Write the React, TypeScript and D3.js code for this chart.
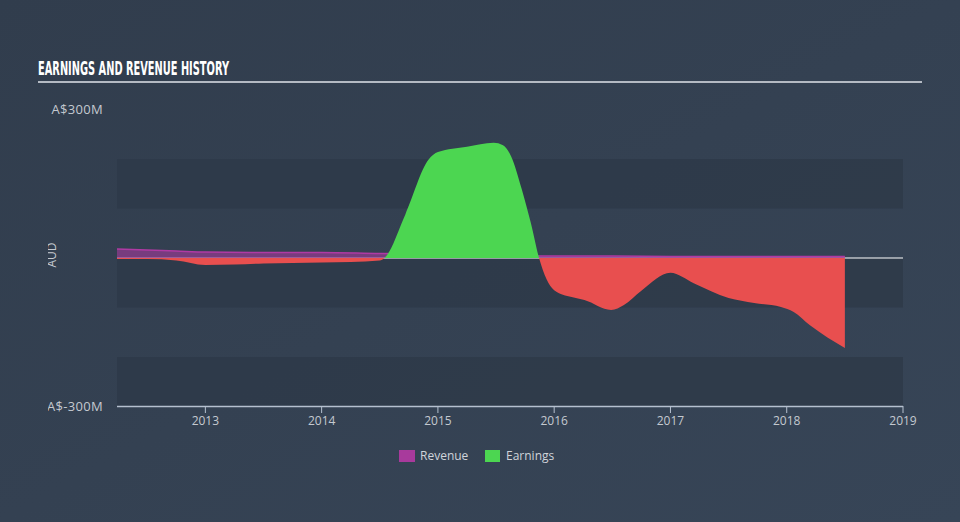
import React from "react";
import * as d3 from "d3";

const W = 960;
const H = 522;

// Earnings (A$ millions) by fractional year
const earnYears = [2012.24, 2012.5, 2012.75, 2013.0, 2013.25, 2013.5, 2013.75, 2014.0, 2014.25, 2014.5, 2014.54, 2014.72, 2014.92, 2015.0, 2015.25, 2015.48, 2015.56, 2015.63, 2015.72, 2015.8, 2015.87, 2016.0, 2016.15, 2016.26, 2016.49, 2016.6, 2016.75, 2017.0, 2017.2, 2017.5, 2017.72, 2017.95, 2018.06, 2018.2, 2018.5];
const earnValues = [-2, -2, -5, -14, -13, -11, -10, -9, -8, -5, 0, 88, 199, 214, 225, 233, 228, 205, 140, 70, 0, -65, -79, -85, -105, -95, -66, -30, -51, -81, -91, -99, -109, -136, -182];

// Revenue (A$ millions)
const revYears = [2012.24, 2012.75, 2013.0, 2013.5, 2014.0, 2014.5, 2015.0, 2015.5, 2016.0, 2016.5, 2017.0, 2017.5, 2018.0, 2018.5];
const revValues = [18, 14, 12, 11, 11, 9, 8, 6, 4, 4, 3, 3, 3, 3];

const yTicks = [300, -300];
const xTicks = [2013, 2014, 2015, 2016, 2017, 2018, 2019];
const bands = [[200, 100], [0, -100], [-200, -300]];

export default function App() {
  const x = d3.scaleLinear().domain([2012.24, 2019]).range([117, 903]);
  const y = d3.scaleLinear().domain([-300, 300]).range([406.5, 109.5]);

  const earn = earnYears.map((t, i) => ({ t, v: earnValues[i] }));
  const rev = revYears.map((t, i) => ({ t, v: revValues[i] }));

  const areaGen = d3
    .area<{ t: number; v: number }>()
    .x((d) => x(d.t))
    .y0(y(0))
    .y1((d) => y(d.v))
    .curve(d3.curveMonotoneX);
  const lineGen = d3
    .line<{ t: number; v: number }>()
    .x((d) => x(d.t))
    .y((d) => y(d.v))
    .curve(d3.curveMonotoneX);

  const earnPath = areaGen(earn) || "";
  const revPath = areaGen(rev) || "";
  const revLine = lineGen(rev) || "";

  const [x0, x1] = x.range();

  return (
    <svg
      width={W}
      height={H}
      style={{ position: "fixed", left: 0, top: 0, display: "block" }}
      fontFamily="'Open Sans', sans-serif"
    >
      <defs>
        <linearGradient id="bg" x1="0" y1="0" x2="1" y2="1">
          <stop offset="0" stopColor="#313d4d" />
          <stop offset="1" stopColor="#374557" />
        </linearGradient>
        <clipPath id="posClip">
          <rect x={0} y={0} width={W} height={y(0)} />
        </clipPath>
        <clipPath id="negClip">
          <rect x={0} y={y(0)} width={W} height={H} />
        </clipPath>
        <clipPath id="leftClip">
          <rect x={48} y={0} width={W} height={H} />
        </clipPath>
      </defs>
      <rect x={0} y={0} width={W} height={H} fill="url(#bg)" />

      {/* Title */}
      <text
        x={38}
        y={75}
        fontFamily="'Liberation Sans Narrow', 'DejaVu Sans Condensed', sans-serif"
        fontWeight="bold"
        fontSize={19}
        fill="#ffffff"
        textLength={191}
        lengthAdjust="spacingAndGlyphs"
      >
        EARNINGS AND REVENUE HISTORY
      </text>
      <rect x={38} y={81} width={884} height={2} fill="#b4bac3" />

      {/* Bands */}
      {bands.map(([a, b], i) => (
        <rect key={i} x={x0} y={y(a)} width={x1 - x0} height={y(b) - y(a)} fill="#2e3a49" opacity={0.85} />
      ))}

      {/* Zero line */}
      <line x1={x0} x2={x1} y1={y(0)} y2={y(0)} stroke="#ffffff" strokeWidth={1.2} />

      {/* Revenue */}
      <path d={revPath} fill="#9c3a96" opacity={0.65} />
      <path d={revLine} fill="none" stroke="#b03aa4" strokeWidth={1.5} />

      {/* Earnings */}
      <path d={earnPath} fill="#4cd651" clipPath="url(#posClip)" />
      <path d={earnPath} fill="#e84f4f" clipPath="url(#negClip)" />

      {/* Y labels */}
      <g clipPath="url(#leftClip)">
        {yTicks.map((v) => (
          <text key={v} x={103} y={y(v) + 4.5} textAnchor="end" fontSize={13} fill="#c4c9d0" letterSpacing={0.3}>
            {v < 0 ? `A$-${Math.abs(v)}M` : `A$${v}M`}
          </text>
        ))}
        <text
          transform={`translate(56,${y(0) - 3}) rotate(-90)`}
          textAnchor="middle"
          fontSize={12}
          fill="#c4c9d0"
        >
          AUD
        </text>
      </g>

      {/* X axis */}
      <line x1={x0} x2={x1} y1={406.5} y2={406.5} stroke="#b5c0cf" strokeWidth={1.5} />
      {xTicks.map((t) => (
        <g key={t}>
          <line x1={x(t)} x2={x(t)} y1={406} y2={413} stroke="#b5c0cf" strokeWidth={1} />
          <text x={x(t)} y={425} textAnchor="middle" fontSize={12} fill="#c4c9d0">
            {t}
          </text>
        </g>
      ))}

      {/* Legend */}
      <rect x={399} y={450} width={16} height={12} fill="#a83a9c" />
      <text x={420} y={460} fontSize={12} fill="#d0d4da">Revenue</text>
      <rect x={485} y={450} width={15} height={12} fill="#4cd651" />
      <text x={506} y={460} fontSize={12} fill="#d0d4da">Earnings</text>
    </svg>
  );
}
